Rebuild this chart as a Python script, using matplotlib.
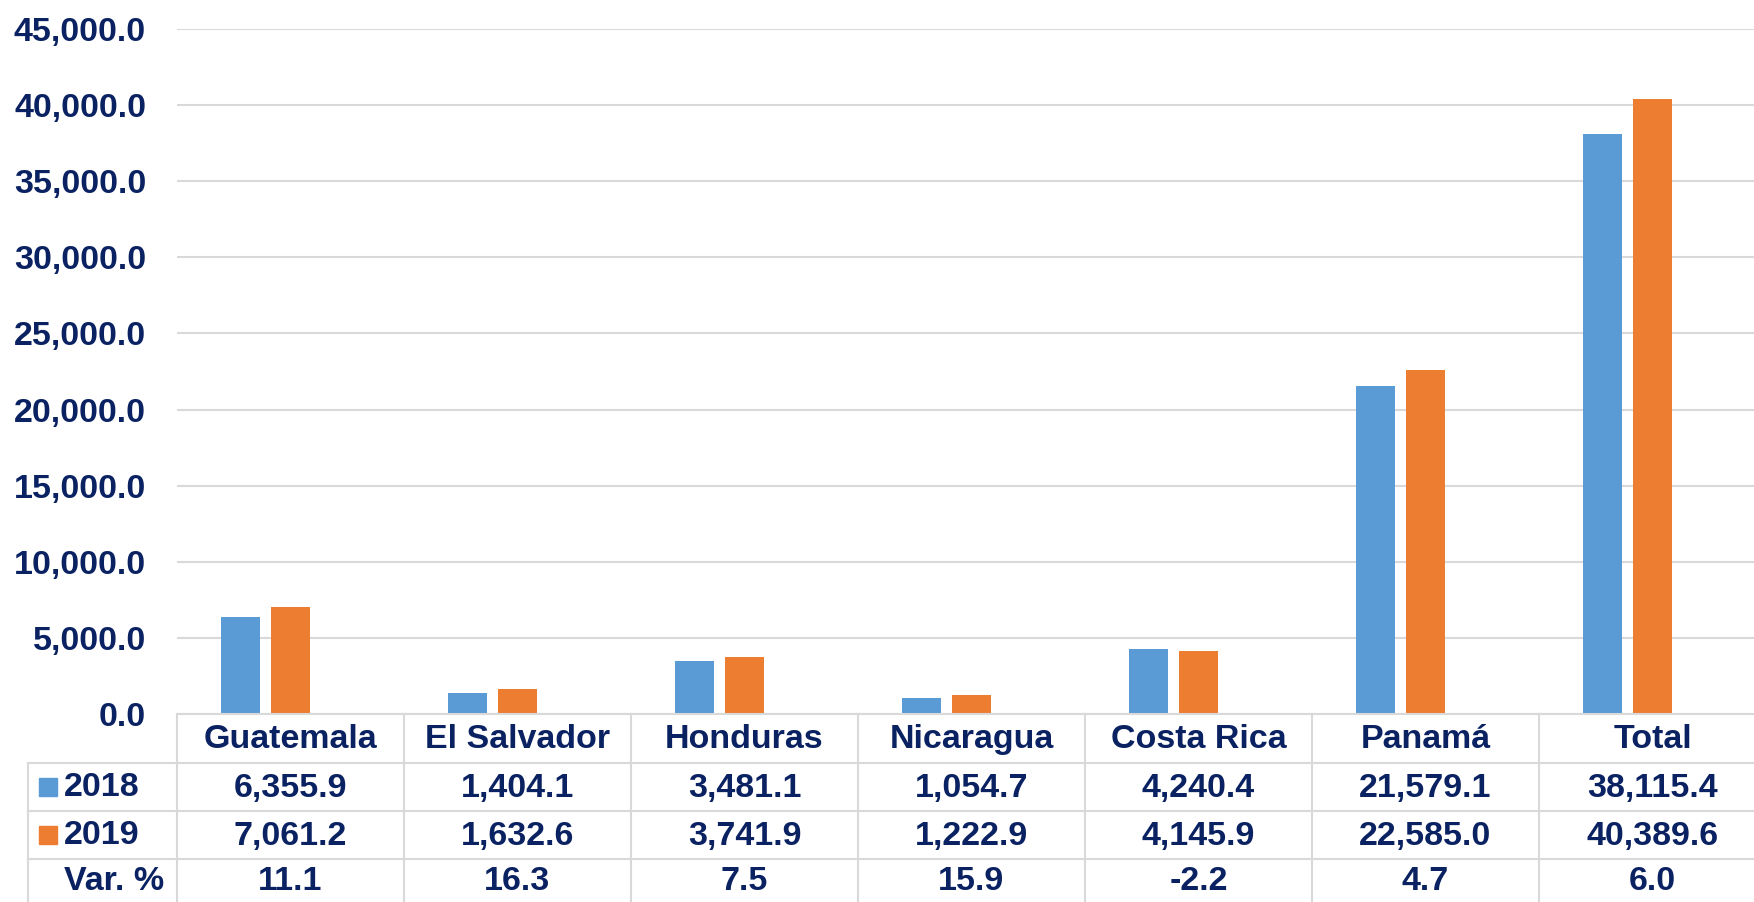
import matplotlib
matplotlib.use("Agg")
import matplotlib.pyplot as plt
from matplotlib.patches import Rectangle
from matplotlib.ticker import FuncFormatter, MultipleLocator

categories = ["Guatemala", "El Salvador", "Honduras", "Nicaragua", "Costa Rica", "Panamá", "Total"]
series_names = ["2018", "2019"]
values_2018 = [6355.9, 1404.1, 3481.1, 1054.7, 4240.4, 21579.1, 38115.4]
values_2019 = [7061.2, 1632.6, 3741.9, 1222.9, 4145.9, 22585.0, 40389.6]
var_pct = [11.1, 16.3, 7.5, 15.9, -2.2, 4.7, 6.0]
var_label = "Var. %"

colors = ["#5B9BD5", "#ED7D31"]
text_color = "#0B2262"
grid_color = "#D9D9D9"
FONT = "Liberation Sans"
FS = 24.5

W, H = 1754, 902
fig = plt.figure(figsize=(W / 100, H / 100), dpi=100)

# pixel layout
x_left, x_right = 177, 1754
y_zero, y_top = 714, 29
col_w = 227
first_center = 265.5

ax = fig.add_axes([x_left / W, (H - y_zero) / H, (x_right - x_left) / W, (y_zero - y_top) / H])
xmin = -(first_center - x_left) / col_w
xmax = xmin + (x_right - x_left) / col_w
ax.set_xlim(xmin, xmax)
ax.set_ylim(0, 45000)

bw = 39 / col_w
off = 25 / col_w
xs = list(range(len(categories)))
ax.bar([x - off for x in xs], values_2018, width=bw, color=colors[0], zorder=3)
ax.bar([x + off for x in xs], values_2019, width=bw, color=colors[1], zorder=3)

ax.yaxis.set_major_locator(MultipleLocator(5000))
ax.yaxis.set_major_formatter(FuncFormatter(lambda v, p: f"{v:,.1f}"))
ax.grid(axis="y", color=grid_color, linewidth=1.5, zorder=0)
ax.set_axisbelow(True)
ax.tick_params(axis="y", length=0, pad=22.3, labelsize=FS, labelcolor=text_color)
ax.tick_params(axis="x", length=0, labelbottom=False)
for lab in ax.get_yticklabels():
    lab.set_fontfamily(FONT)
    lab.set_fontweight("bold")
for s in ax.spines.values():
    s.set_visible(False)

# data table
tax = fig.add_axes([0, 0, 1, (H - y_zero) / H])
tax.set_xlim(0, W)
tax.set_ylim(H, y_zero)
tax.axis("off")

row_edges = [714, 763, 811, 859, 902]
table_left = 28
lw = 1.5
# horizontal lines
tax.plot([x_left, W], [row_edges[0], row_edges[0]], color=grid_color, lw=lw, clip_on=False)
for y in row_edges[1:4]:
    tax.plot([table_left, W], [y, y], color=grid_color, lw=lw, clip_on=False)
# vertical lines
tax.plot([table_left, table_left], [row_edges[1], H], color=grid_color, lw=lw, clip_on=False)
for i in range(len(categories)):
    xl = x_left + col_w * i
    tax.plot([xl, xl], [row_edges[0], H], color=grid_color, lw=lw, clip_on=False)

tkw = dict(fontsize=FS, fontweight="bold", color=text_color, family=FONT, va="center")
row_centers = [(row_edges[k] + row_edges[k + 1]) / 2 + 1 for k in range(4)]
for i, cat in enumerate(categories):
    cx = x_left + col_w * (i + 0.5)
    tax.text(cx, row_centers[0], cat, ha="center", **tkw)
    tax.text(cx, row_centers[1], f"{values_2018[i]:,.1f}", ha="center", **tkw)
    tax.text(cx, row_centers[2], f"{values_2019[i]:,.1f}", ha="center", **tkw)
    tax.text(cx, row_centers[3], f"{var_pct[i]:.1f}", ha="center", **tkw)

for k, name in enumerate(series_names):
    yc = row_centers[k + 1] - 1
    tax.add_patch(Rectangle((39, yc - 9), 18, 18, color=colors[k], clip_on=False))
    tax.text(64, row_centers[k + 1], name, ha="left", **tkw)
tax.text(64, row_centers[3], var_label, ha="left", **tkw)

fig.savefig("out.png", dpi=100)
